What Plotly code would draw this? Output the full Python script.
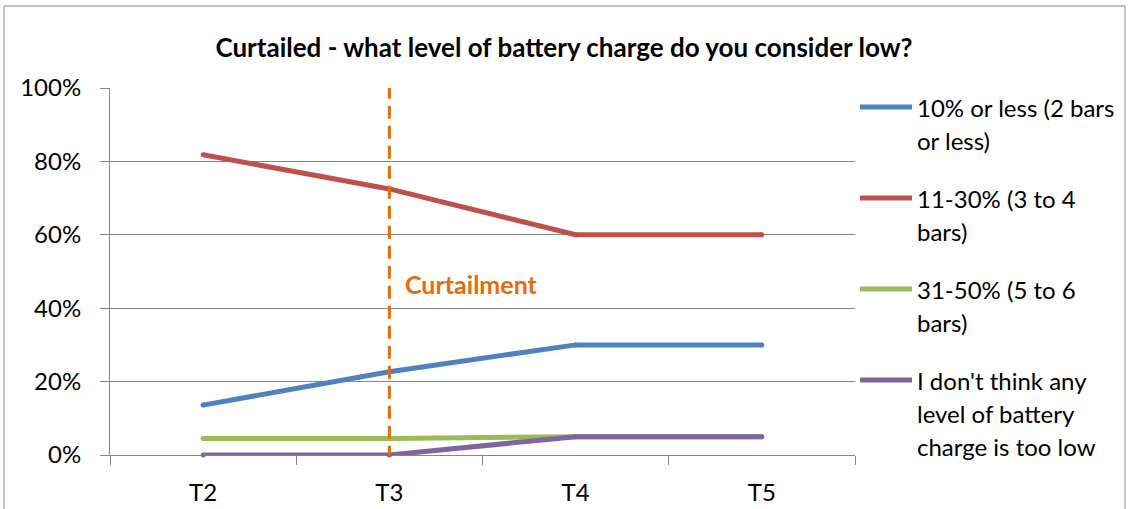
import plotly.graph_objects as go

categories = ["T2", "T3", "T4", "T5"]
s_10_or_less = [13.6, 22.7, 30.0, 30.0]
s_11_30 = [81.8, 72.5, 60.0, 60.0]
s_31_50 = [4.5, 4.5, 5.0, 5.0]
s_none_low = [0.0, 0.0, 5.0, 5.0]

series_names = [
    "10% or less (2 bars or less)",
    "11-30% (3 to 4 bars)",
    "31-50% (5 to 6 bars)",
    "I don't think any level of battery charge is too low",
]
legend_lines = [
    ["10% or less (2 bars", "or less)"],
    ["11-30% (3 to 4", "bars)"],
    ["31-50% (5 to 6", "bars)"],
    ["I don't think any", "level of battery", "charge is too low"],
]
series_values = [s_10_or_less, s_11_30, s_31_50, s_none_low]
colors = ["#4F81BD", "#C0504D", "#9BBB59", "#8064A2"]

y_ticks = [0, 20, 40, 60, 80, 100]
y_tick_labels = ["0%", "20%", "40%", "60%", "80%", "100%"]
title_text = "Curtailed - what level of battery charge do you consider low?"
marker_label = "Curtailment"
marker_category = 1  # index of T3

W, H = 1128, 509
L, R, T, B = 110, 855, 88, 455
FONT = "Lato"
FS = 24
LW = 5

fig = go.Figure()
for name, vals, col in zip(series_names, series_values, colors):
    fig.add_trace(go.Scatter(
        x=categories, y=vals, name=name, mode="lines+markers",
        line=dict(color=col, width=LW),
        marker=dict(color=col, size=LW, line=dict(width=0)),
        cliponaxis=False, showlegend=False, hoverinfo="skip",
    ))

def px_to_paper_x(px):
    return (px - L) / (R - L)

def px_to_paper_y(py):
    return (B - py) / (B - T)

shapes = []
annotations = []

# chart border
shapes.append(dict(type="rect", xref="paper", yref="paper",
                   x0=px_to_paper_x(4), x1=px_to_paper_x(1125),
                   y0=px_to_paper_y(520), y1=px_to_paper_y(6),
                   line=dict(color="#888888", width=1), layer="below"))

# curtailment dashed line
shapes.append(dict(type="line", xref="x", yref="y",
                   x0=marker_category, x1=marker_category, y0=100.6, y1=0,
                   line=dict(color="#E46C0A", width=3, dash="13px,7px")))
annotations.append(dict(xref="x", yref="y", x=marker_category + 0.075, y=46.6,
                        text="<b>" + marker_label + "</b>", showarrow=False,
                        xanchor="left", yanchor="middle",
                        font=dict(family=FONT, size=25, color="#E46C0A")))

# legend (manual)
for i, (lines, col) in enumerate(zip(legend_lines, colors)):
    y0 = 107 + 91 * i
    shapes.append(dict(type="line", xref="paper", yref="paper",
                       x0=px_to_paper_x(860), x1=px_to_paper_x(912),
                       y0=px_to_paper_y(y0), y1=px_to_paper_y(y0),
                       line=dict(color=col, width=LW)))
    for j, txt in enumerate(lines):
        annotations.append(dict(xref="paper", yref="paper",
                                x=px_to_paper_x(915), y=px_to_paper_y(y0 + 33 * j),
                                text=txt, showarrow=False, xanchor="left", yanchor="middle",
                                font=dict(family=FONT, size=FS, color="#000000")))

fig.update_layout(
    width=W, height=H,
    margin=dict(l=L, r=W - R, t=T, b=H - B, pad=0, autoexpand=False),
    paper_bgcolor="white", plot_bgcolor="white",
    title=dict(text="<b>" + title_text + "</b>", x=0.5, xanchor="center",
               y=1 - 48 / H, yanchor="middle", yref="container",
               font=dict(family=FONT, size=26, color="#000000")),
    font=dict(family=FONT, size=FS, color="#000000"),
    shapes=shapes, annotations=annotations,
    hovermode=False,
    xaxis=dict(type="category", range=[-0.5, 3.5], showgrid=False, automargin=False,
               showline=True, linecolor="#868686", linewidth=1, layer="below traces",
               ticks="outside", tickson="boundaries", ticklen=9, tickcolor="#868686",
               ticklabelstandoff=16, tickfont=dict(family=FONT, size=FS)),
    yaxis=dict(range=[0, 100], tickvals=y_ticks, ticktext=y_tick_labels, automargin=False,
               showgrid=True, gridcolor="#868686", gridwidth=1, layer="below traces",
               showline=True, linecolor="#868686", linewidth=1,
               ticks="outside", ticklen=9, tickcolor="#868686",
               zeroline=False, ticklabelstandoff=14,
               tickfont=dict(family=FONT, size=FS)),
)

fig.write_html("out.html", config={"displayModeBar": False},
               post_script="document.body.style.margin='0';")
